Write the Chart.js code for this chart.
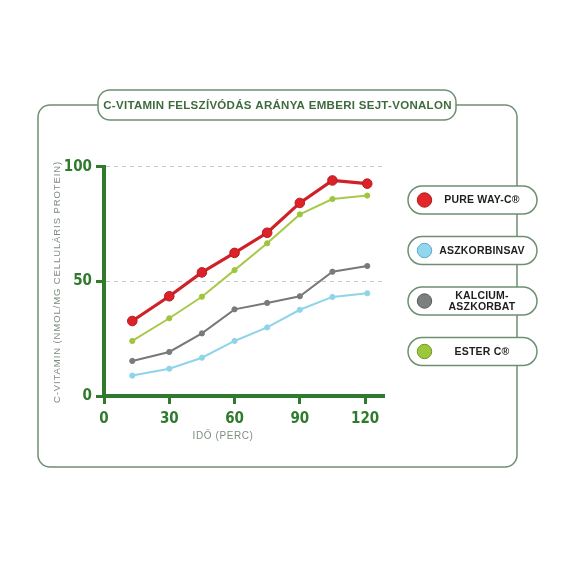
<!DOCTYPE html>
<html>
<head>
<meta charset="utf-8">
<script src="https://cdn.jsdelivr.net/npm/chart.js@4.4.0/dist/chart.umd.min.js"></script>
<style>
html,body{margin:0;padding:0;background:#fff;}
#wrap{width:570px;height:570px;position:relative;}
</style>
</head>
<body>
<div id="wrap"><canvas id="c" width="570" height="570"></canvas></div>
<script>
// ---- data ----
const chartTitle = "C-VITAMIN FELSZÍVÓDÁS ARÁNYA EMBERI SEJT-VONALON";
const xTitle = "IDŐ (PERC)";
const yTitle = "C-VITAMIN (NMOL/MG CELLULÁRIS PROTEIN)";
const times = [13, 30, 45, 60, 75, 90, 105, 121];
const xTicks = [0, 30, 60, 90, 120];
const yTicks = [0, 50, 100];
const seriesNames = ["PURE WAY-C®", "ASZKORBINSAV", "KALCIUM-\nASZKORBAT", "ESTER C®"];
const pureWayC   = [32.7, 43.5, 53.9, 62.4, 71.2, 84.2, 94.0, 92.6];
const aszkorbin  = [8.9, 11.9, 16.7, 24.0, 29.9, 37.6, 43.2, 44.8];
const kalcium    = [15.3, 19.2, 27.3, 37.8, 40.6, 43.5, 54.2, 56.7];
const esterC     = [24.0, 33.9, 43.3, 54.9, 66.6, 79.2, 85.9, 87.4];

const seriesValues = [pureWayC, aszkorbin, kalcium, esterC];
const lineColors = ['#cf2128', '#8fd4ea', '#787878', '#a9c94b'];
const markerColors = ['#dc2228', '#8fd4ea', '#7a7a7a', '#9fc43e'];
const legendFill = ['#e3262a', '#93d6ef', '#7b7f7e', '#9ec63a'];
const legendBorder = ['#a81c1e', '#5aa9c4', '#555a58', '#6f9a22'];

const GREEN = '#2f7a2c';
const FRAME = '#6f8f72';

function rr(ctx, x, y, w, h, r){
  ctx.beginPath();
  ctx.moveTo(x+r, y);
  ctx.lineTo(x+w-r, y);
  ctx.arcTo(x+w, y, x+w, y+r, r);
  ctx.lineTo(x+w, y+h-r);
  ctx.arcTo(x+w, y+h, x+w-r, y+h, r);
  ctx.lineTo(x+r, y+h);
  ctx.arcTo(x, y+h, x, y+h-r, r);
  ctx.lineTo(x, y+r);
  ctx.arcTo(x, y, x+r, y, r);
  ctx.closePath();
}

const decor = {
  id: 'decor',
  beforeDraw(chart){
    const ctx = chart.ctx;
    ctx.save();
    ctx.strokeStyle = FRAME;
    ctx.lineWidth = 1.5;
    const fx = 38, fy = 105, fw = 479, fh = 362, r = 12;
    ctx.beginPath();
    ctx.moveTo(98, fy);
    ctx.lineTo(fx + r, fy);
    ctx.arcTo(fx, fy, fx, fy + r, r);
    ctx.lineTo(fx, fy + fh - r);
    ctx.arcTo(fx, fy + fh, fx + r, fy + fh, r);
    ctx.lineTo(fx + fw - r, fy + fh);
    ctx.arcTo(fx + fw, fy + fh, fx + fw, fy + fh - r, r);
    ctx.lineTo(fx + fw, fy + r);
    ctx.arcTo(fx + fw, fy, fx + fw - r, fy, r);
    ctx.lineTo(456, fy);
    ctx.stroke();
    // x axis title
    ctx.fillStyle = '#808c80';
    ctx.font = '10px "Liberation Sans", Arial, sans-serif';
    ctx.textAlign = 'center';
    ctx.textBaseline = 'middle';
    if ('letterSpacing' in ctx) ctx.letterSpacing = '0.6px';
    ctx.fillText(xTitle, 223, 436);
    // y axis title
    ctx.translate(57, 282);
    ctx.rotate(-Math.PI / 2);
    ctx.font = '9.5px "Liberation Sans", Arial, sans-serif';
    if ('letterSpacing' in ctx) ctx.letterSpacing = '0.9px';
    ctx.fillText(yTitle, 0, 0);
    ctx.restore();
  },
  afterDraw(chart){
    const ctx = chart.ctx;
    ctx.save();
    ctx.fillStyle = '#fff';
    ctx.strokeStyle = FRAME;
    ctx.lineWidth = 1.5;
    rr(ctx, 98, 90, 358, 30, 12);
    ctx.fill(); ctx.stroke();
    ctx.fillStyle = '#3e6b3e';
    ctx.font = 'bold 11.5px "Liberation Sans", Arial, sans-serif';
    if ('letterSpacing' in ctx) ctx.letterSpacing = '0.3px';
    ctx.textAlign = 'center';
    ctx.textBaseline = 'middle';
    ctx.fillText(chartTitle, 277.5, 105.5);
    if ('letterSpacing' in ctx) ctx.letterSpacing = '0.2px';
    const centers = [200, 250.5, 301, 351.5];
    for (let i = 0; i < seriesNames.length; i++) {
      const cy = centers[i];
      ctx.fillStyle = '#fff';
      ctx.strokeStyle = FRAME;
      ctx.lineWidth = 1.5;
      rr(ctx, 408, cy - 14, 129, 28, 14);
      ctx.fill(); ctx.stroke();
      ctx.beginPath();
      ctx.arc(424.5, cy, 7.2, 0, Math.PI * 2);
      ctx.fillStyle = legendFill[i];
      ctx.fill();
      ctx.lineWidth = 1;
      ctx.strokeStyle = legendBorder[i];
      ctx.stroke();
      ctx.fillStyle = '#1e1e1e';
      ctx.font = 'bold 10.5px "Liberation Sans", Arial, sans-serif';
      const lines = seriesNames[i].split('\n');
      const lh = 11;
      lines.forEach((t, k) => {
        ctx.fillText(t, 482, cy + (k - (lines.length - 1) / 2) * lh + 0.5);
      });
    }
    ctx.restore();
  }
};

const datasets = seriesValues.map((vals, i) => ({
  label: seriesNames[i],
  data: times.map((t, k) => ({x: t, y: vals[k]})),
  borderColor: lineColors[i],
  backgroundColor: markerColors[i],
  pointBackgroundColor: markerColors[i],
  pointBorderColor: i === 0 ? '#b51d21' : markerColors[i],
  borderWidth: i === 0 ? 3.2 : 2,
  pointRadius: i === 0 ? 4.8 : 2.6,
  pointBorderWidth: 1,
  tension: 0,
  fill: false
})).reverse();

const tickFont = {family: '"Liberation Sans Narrow", "DejaVu Sans Condensed", sans-serif', size: 15, weight: 'bold'};

new Chart(document.getElementById('c'), {
  type: 'line',
  data: {datasets},
  plugins: [decor],
  options: {
    responsive: false,
    animation: false,
    devicePixelRatio: 1,
    layout: {padding: {left: 50, right: 186, top: 166.7, bottom: 126}},
    plugins: {legend: {display: false}, tooltip: {enabled: false}, title: {display: false}},
    scales: {
      x: {
        type: 'linear',
        min: 0, max: 128.7,
        afterFit(s){ s.height = 48; },
        afterBuildTicks(s){ s.ticks = xTicks.map(v => ({value: v})); },
        border: {display: true, color: GREEN, width: 4},
        grid: {drawOnChartArea: false, drawTicks: true, tickLength: 8, tickColor: GREEN, tickWidth: 3},
        ticks: {color: GREEN, font: tickFont, padding: 6, maxRotation: 0},
        title: {display: false}
      },
      y: {
        type: 'linear',
        min: 0, max: 100,
        afterFit(s){ s.width = 54; },
        afterBuildTicks(s){ s.ticks = yTicks.map(v => ({value: v})); },
        border: {display: true, color: GREEN, width: 4, dash: [4, 4]},
        grid: {drawOnChartArea: true, color: ctx => ctx.tick && ctx.tick.value === 0 ? 'rgba(0,0,0,0)' : '#c8c8c8', lineWidth: 1, tickColor: GREEN, tickWidth: 3, tickLength: 8, tickBorderDash: []},
        ticks: {color: GREEN, font: tickFont, padding: 4},
        title: {display: false}
      }
    }
  }
});
</script>
</body>
</html>
